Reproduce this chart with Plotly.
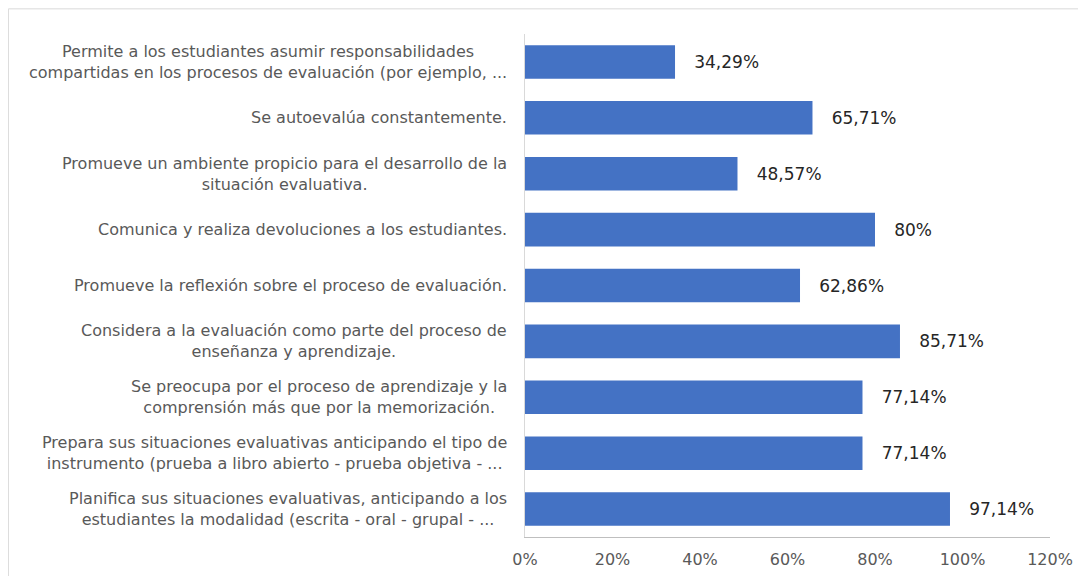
import plotly.graph_objects as go

categories = [
    "Permite a los estudiantes asumir responsabilidades<br>compartidas en los procesos de evaluación (por ejemplo, ...",
    "Se autoevalúa constantemente.",
    "Promueve un ambiente propicio para el desarrollo de la<br>situación evaluativa.",
    "Comunica y realiza devoluciones a los estudiantes.",
    "Promueve la reflexión sobre el proceso de evaluación.",
    "Considera a la evaluación como parte del proceso de<br>enseñanza y aprendizaje.",
    "Se preocupa por el proceso de aprendizaje y la<br>comprensión más que por la memorización.",
    "Prepara sus situaciones evaluativas anticipando el tipo de<br>instrumento (prueba a libro abierto - prueba objetiva - ...",
    "Planifica sus situaciones evaluativas, anticipando a los<br>estudiantes la modalidad (escrita - oral - grupal - ...",
]
values = [34.29, 65.71, 48.57, 80.0, 62.86, 85.71, 77.14, 77.14, 97.14]
value_labels = ["34,29%", "65,71%", "48,57%", "80%", "62,86%", "85,71%", "77,14%", "77,14%", "97,14%"]
tick_vals = [0, 20, 40, 60, 80, 100, 120]
tick_text = ["0%", "20%", "40%", "60%", "80%", "100%", "120%"]

FONT = "DejaVu Sans"
idx = list(range(len(categories)))

fig = go.Figure()
fig.add_trace(go.Bar(
    x=values, y=idx, orientation="h",
    marker=dict(color="#4472C4", line=dict(width=0)),
    text=value_labels, texttemplate="   %{text}", textposition="outside",
    textfont=dict(family=FONT, size=17, color="#262626"),
    cliponaxis=False, width=0.6,
))

for i, c in enumerate(categories):
    fig.add_annotation(
        x=0, y=i, xref="paper", yref="y", text=c, showarrow=False,
        xanchor="right", yanchor="middle", align="center", xshift=-16,
        font=dict(family=FONT, size=16, color="#595959"),
    )

fig.add_shape(type="rect", xref="paper", yref="paper",
              x0=-0.984, x1=1.2, y0=-0.2, y1=1.05,
              line=dict(color="#D9D9D9", width=1), fillcolor="rgba(0,0,0,0)", layer="below")

fig.update_layout(
    width=1086, height=576,
    margin=dict(l=517, r=44, t=26, b=47),
    plot_bgcolor="white", paper_bgcolor="white",
    showlegend=False,
    bargap=0.4,
    font=dict(family=FONT),
    xaxis=dict(range=[0, 120], tickvals=tick_vals, ticktext=tick_text,
               showgrid=False, zeroline=False, showline=True, linecolor="#BFBFBF",
               linewidth=1, ticks="", ticklabelstandoff=8,
               tickfont=dict(family=FONT, size=16, color="#595959"),
               fixedrange=True),
    yaxis=dict(showticklabels=False, showgrid=False,
               zeroline=False, showline=True, linecolor="#D9D9D9", linewidth=1,
               ticks="", range=[8.5, -0.5], autorange=False),
)

fig.write_html("out.html")
